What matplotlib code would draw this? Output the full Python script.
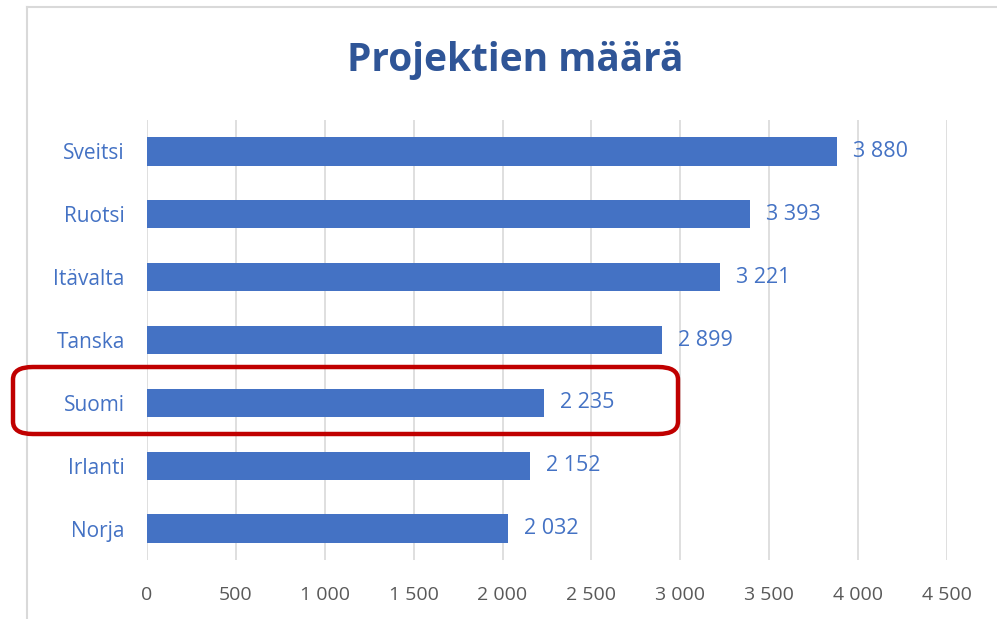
import matplotlib
matplotlib.use('Agg')
import matplotlib.pyplot as plt
from matplotlib.patches import FancyBboxPatch
from matplotlib.lines import Line2D
from matplotlib.ticker import FuncFormatter

# Data
countries = ['Sveitsi', 'Ruotsi', 'Itävalta', 'Tanska', 'Suomi', 'Irlanti', 'Norja']
projects = [3880, 3393, 3221, 2899, 2235, 2152, 2032]
x_ticks = [0, 500, 1000, 1500, 2000, 2500, 3000, 3500, 4000, 4500]

BAR_COLOR = '#4472C4'
TITLE_COLOR = '#2F5597'
TICK_COLOR = '#595959'
GRID_COLOR = '#D9D9D9'

plt.rcParams['font.family'] = ['Open Sans', 'DejaVu Sans']


def fmt_space(v, pos=None):
    return f"{int(v):,}".replace(',', ' ')


fig = plt.figure(figsize=(9.97, 6.19), dpi=100)
ax = fig.add_axes([147 / 997, 1 - 560 / 619, 800 / 997, 440 / 619])

y = list(range(len(countries)))
ax.barh(y, projects, height=0.45, color=BAR_COLOR, zorder=3)
ax.set_yticks(y)
ax.set_yticklabels(countries, color=BAR_COLOR, fontsize=15)
ax.set_ylim(len(countries) - 0.5, -0.5)

ax.set_xlim(0, 4500)
ax.set_xticks(x_ticks)
ax.xaxis.set_major_formatter(FuncFormatter(fmt_space))
ax.tick_params(axis='x', colors=TICK_COLOR, labelsize=14, length=0, pad=19)
ax.tick_params(axis='y', length=0, pad=16)
ax.grid(axis='x', color=GRID_COLOR, linewidth=1.2, zorder=0)
for s in ax.spines.values():
    s.set_visible(False)

for yi, v in zip(y, projects):
    ax.text(v + 90, yi, fmt_space(v), va='center', ha='left',
            color=BAR_COLOR, fontsize=15.5)

fig.text(515 / 997, 1 - 60 / 619, 'Projektien määrä', ha='center', va='center',
         fontsize=28, fontweight='bold', color=TITLE_COLOR)

# chart frame (left and top edges visible)
fig.add_artist(Line2D([27 / 997, 27 / 997], [0, 1 - 7 / 619],
                      transform=fig.transFigure, color=GRID_COLOR, lw=1.5))
fig.add_artist(Line2D([27 / 997, 1], [1 - 7 / 619, 1 - 7 / 619],
                      transform=fig.transFigure, color=GRID_COLOR, lw=1.5))

# highlight box around Suomi
box = FancyBboxPatch((13 / 997, 1 - 434 / 619), 665 / 997, 67 / 619,
                     boxstyle='round,pad=0,rounding_size=0.02',
                     transform=fig.transFigure, fill=False,
                     edgecolor='#C00000', linewidth=3.2, zorder=10)
fig.add_artist(box)

fig.savefig('out.png', dpi=100)
